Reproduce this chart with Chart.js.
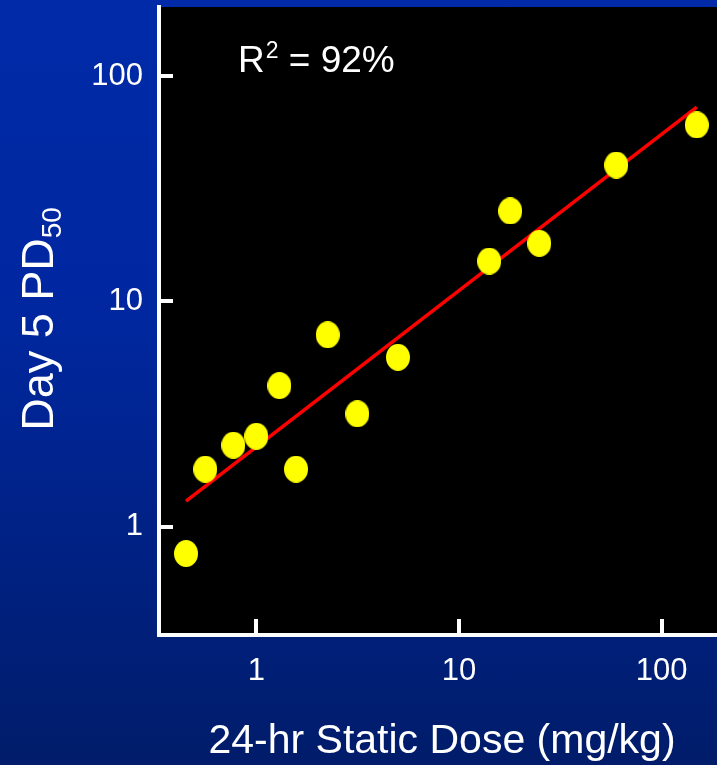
<!DOCTYPE html>
<html>
<head>
<meta charset="utf-8">
<title>Day 5 PD50 vs 24-hr Static Dose</title>
<script src="https://cdn.jsdelivr.net/npm/chart.js@4/dist/chart.umd.min.js"></script>
<style>
  html, body { margin: 0; padding: 0; }
  body {
    width: 717px; height: 765px; overflow: hidden;
    background: linear-gradient(to bottom, #002aa8 0%, #0027a0 40%, #001c6a 100%);
  }
  canvas { display: block; }
</style>
</head>
<body>
<canvas id="chart" width="717" height="765"></canvas>
<script>
// 24-hr static dose (mg/kg) and the matching day-5 PD50 for each compound
const doses = [0.45, 0.56, 0.77, 1.0, 1.30, 1.57, 2.25, 3.15, 5.0, 14.1, 17.9, 24.9, 59.7, 149];
const pd50  = [0.76, 1.80, 2.30, 2.52, 4.23, 1.80, 7.11, 3.17, 5.65, 15.1, 25.2, 18.1, 40.3, 60.7];

// End points of the log-log regression line
const fitDoses = [0.45, 149];
const fitPd50  = [1.30, 72.9];

// Decade ticks on both axes
const xTickValues = [1, 10, 100];
const yTickValues = [1, 10, 100];

// Axis extents
const xRange = [0.331, 187.5];
const yRange = [0.3306, 202.6];

const rSquared = '92%';
const xTitle = '24-hr Static Dose (mg/kg)';
const yTitleMain = 'Day 5 PD';
const yTitleSub = '50';

const FONT = '"Liberation Sans", Arial, Helvetica, sans-serif';

// Slightly tall oval marker
function makeOval(w, h, color) {
  const c = document.createElement('canvas');
  c.width = w; c.height = h;
  const g = c.getContext('2d');
  g.fillStyle = color;
  g.beginPath();
  g.ellipse(w / 2, h / 2, w / 2, h / 2, 0, 0, Math.PI * 2);
  g.fill();
  return c;
}
const oval = makeOval(24, 27, '#ffff00');

function fixScale(size, key) {
  return function (s) {
    s[key] = size;
    s.paddingTop = 0; s.paddingBottom = 0; s.paddingLeft = 0; s.paddingRight = 0;
  };
}

function fixTicks(values, range) {
  return function (s) {
    s.ticks = values.map(v => ({ value: v }));
    s.min = range[0];
    s.max = range[1];
  };
}

// Black plotting field
const plotBackground = {
  id: 'plotBackground',
  beforeDraw(chart) {
    const { ctx, chartArea: a } = chart;
    ctx.save();
    ctx.fillStyle = '#000000';
    ctx.fillRect(a.left, a.top, a.right - a.left, a.bottom - a.top);
    ctx.restore();
  }
};

// Tick marks pointing into the plot
const innerTicks = {
  id: 'innerTicks',
  beforeDatasetsDraw(chart) {
    const { ctx, chartArea: a, scales } = chart;
    ctx.save();
    ctx.strokeStyle = '#ffffff';
    ctx.lineWidth = 4;
    ctx.beginPath();
    xTickValues.forEach(v => {
      const px = Math.round(scales.x.getPixelForValue(v));
      ctx.moveTo(px, a.bottom);
      ctx.lineTo(px, a.bottom - 16);
    });
    yTickValues.forEach(v => {
      const py = Math.round(scales.y.getPixelForValue(v));
      ctx.moveTo(a.left, py);
      ctx.lineTo(a.left + 14, py);
    });
    ctx.stroke();
    ctx.restore();
  }
};

// Axis titles and the R² annotation
const annotations = {
  id: 'annotations',
  afterDraw(chart) {
    const { ctx } = chart;
    ctx.save();
    ctx.fillStyle = '#ffffff';
    ctx.textBaseline = 'alphabetic';

    // x-axis title
    ctx.font = '41px ' + FONT;
    ctx.textAlign = 'center';
    ctx.fillText(xTitle, 442, 753);

    // y-axis title with subscript
    ctx.textAlign = 'left';
    ctx.font = '45px ' + FONT;
    const wMain = ctx.measureText(yTitleMain).width;
    ctx.font = '28px ' + FONT;
    const wSub = ctx.measureText(yTitleSub).width;
    const total = wMain + wSub;
    ctx.translate(53, 319 + total / 2);
    ctx.rotate(-Math.PI / 2);
    ctx.font = '45px ' + FONT;
    ctx.fillText(yTitleMain, 0, 0);
    ctx.font = '28px ' + FONT;
    ctx.fillText(yTitleSub, wMain, 8);
    ctx.setTransform(1, 0, 0, 1, 0, 0);

    // R² label
    let x = 238;
    ctx.font = '37px ' + FONT;
    ctx.fillText('R', x, 72);
    x += ctx.measureText('R').width + 1;
    ctx.font = '23px ' + FONT;
    ctx.fillText('2', x, 58);
    x += ctx.measureText('2').width;
    ctx.font = '37px ' + FONT;
    ctx.fillText(' = ' + rSquared, x, 72);
    ctx.restore();
  }
};

const tickFont = { family: FONT, size: 31 };

new Chart(document.getElementById('chart'), {
  type: 'scatter',
  data: {
    datasets: [
      {
        label: 'Day 5 PD50',
        data: doses.map((d, i) => ({ x: d, y: pd50[i] })),
        pointStyle: oval,
        pointRadius: 13,
        showLine: false,
        order: 0
      },
      {
        label: 'Regression',
        data: fitDoses.map((d, i) => ({ x: d, y: fitPd50[i] })),
        showLine: true,
        borderColor: '#ff0000',
        borderWidth: 3.5,
        pointRadius: 0,
        fill: false,
        order: 1
      }
    ]
  },
  options: {
    responsive: false,
    animation: false,
    devicePixelRatio: 1,
    events: [],
    layout: { autoPadding: false, padding: { top: 7, left: 0, right: 0, bottom: 0 } },
    plugins: { legend: { display: false }, tooltip: { enabled: false } },
    scales: {
      x: {
        type: 'logarithmic',
        bounds: 'data',
        min: xRange[0],
        max: xRange[1],
        afterBuildTicks: fixTicks(xTickValues, xRange),
        afterFit: fixScale(130, 'height'),
        grid: { display: false, drawTicks: false },
        border: { display: true, color: '#ffffff', width: 4 },
        ticks: {
          color: '#ffffff', font: tickFont, padding: 18,
          autoSkip: false, maxRotation: 0, minRotation: 0,
          callback: v => String(v)
        }
      },
      y: {
        type: 'logarithmic',
        bounds: 'data',
        min: yRange[0],
        max: yRange[1],
        afterBuildTicks: fixTicks(yTickValues, yRange),
        afterFit: fixScale(159, 'width'),
        grid: { display: false, drawTicks: false },
        border: { display: true, color: '#ffffff', width: 4 },
        ticks: {
          color: '#ffffff', font: tickFont, padding: 16,
          autoSkip: false,
          callback: v => String(v)
        }
      }
    }
  },
  plugins: [plotBackground, innerTicks, annotations]
});
</script>
</body>
</html>
